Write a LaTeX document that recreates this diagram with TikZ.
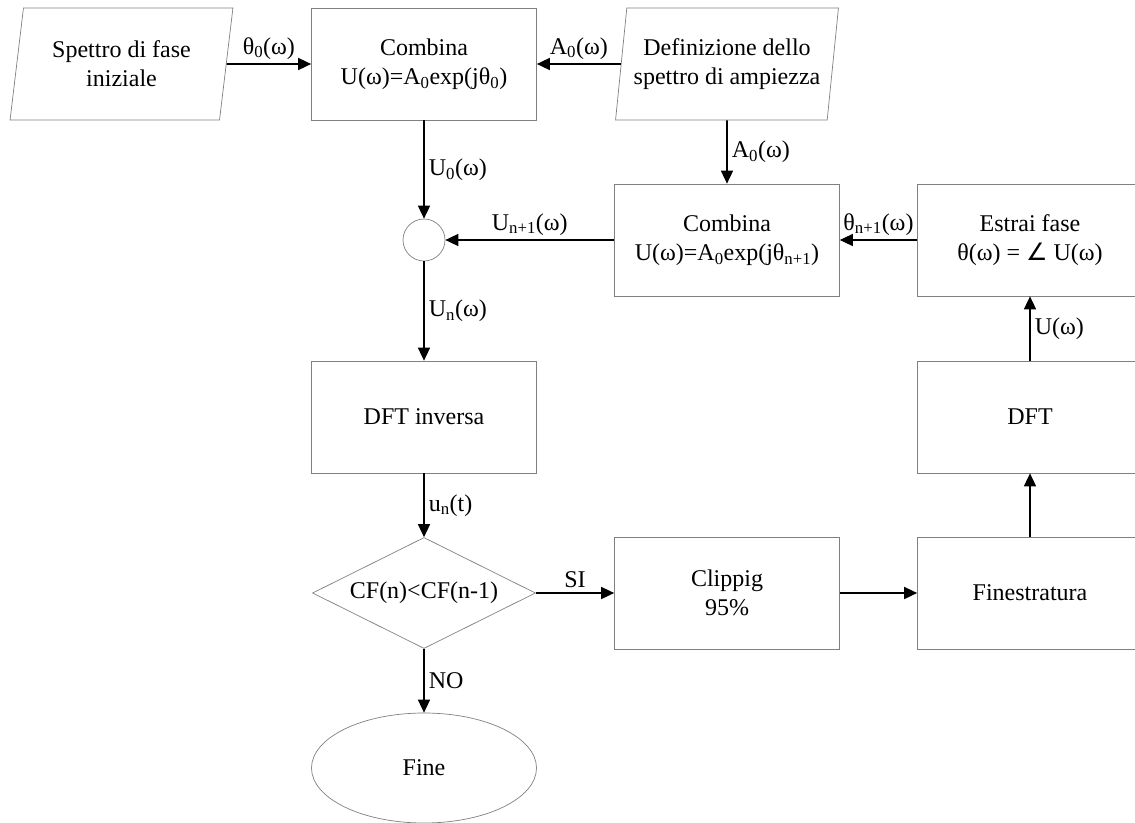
\documentclass[tikz,border=0pt]{standalone}
\usepackage{fontspec}
\setmainfont{Liberation Serif}
\newfontfamily\symbfont{DejaVu Sans}
\usetikzlibrary{shapes.geometric,arrows.meta}

\begin{document}
\begin{tikzpicture}[x=1pt,y=-1pt,font=\fontsize{24}{29}\selectfont,
    box/.style={draw=gray,line width=.7pt,align=center,minimum width=225pt,minimum height=112pt,inner sep=2pt},
    para/.style={box,trapezium,trapezium left angle=79,trapezium right angle=101,trapezium stretches=true,minimum width=223pt},
    lbl/.style={inner sep=4pt}]

      \useasboundingbox (0,0) rectangle (1135,822);

      \begin{scope}[every node/.style={box}]
        \node[para] (1) at (121.5,64) {Spettro di fase\\iniziale};
        \node (2) at (424,64) {Combina\\U(ω)=A\textsubscript{0}exp(jθ\textsubscript{0})};
        \node[para] (3) at (727,64) {Definizione dello\\spettro di ampiezza};
        \node[circle,minimum width=42pt,minimum height=42pt,inner sep=0pt] (4) at (424,240) {};
        \node (5) at (727,240) {Combina\\U(ω)=A\textsubscript{0}exp(jθ\textsubscript{n+1})};
        \node (6) at (1030,240) {Estrai fase\\θ(ω) = {\symbfont ∠} U(ω)};
        \node (7) at (424,417) {DFT inversa};
        \node[diamond,aspect=2,minimum width=223pt,minimum height=111pt,inner sep=0pt] (8) at (424,593) {CF(n)<CF(n-1)};
        \node (9) at (727,593) {Clippig\\95\%};
        \node (10) at (1030,593) {Finestratura};
        \node (11) at (1030,417) {DFT};
        \node[ellipse,minimum height=110pt] (12) at (424,768) {Fine};
      \end{scope}

      \begin{scope}[every node/.style={lbl}]
        \begin{scope}[every edge/.style={draw,line width=1.6pt,-{Triangle[length=13pt,width=12pt]}}]
          \path (1)  edge node[above] {θ\textsubscript{0}(ω)} (2);
          \path (3)  edge node[above] {A\textsubscript{0}(ω)} (2);
          \path (2)  edge node[right] {U\textsubscript{0}(ω)} (4);
          \path (3)  edge node[right] {A\textsubscript{0}(ω)} (5);
          \path (5)  edge node[above] {U\textsubscript{n+1}(ω)} (4);
          \path (6)  edge node[above] {θ\textsubscript{n+1}(ω)} (5);
          \path (4)  edge node[right] {U\textsubscript{n}(ω)} (7);
          \path (7)  edge node[right] {u\textsubscript{n}(t)} (8);
          \path (8)  edge node[above] {SI} (9);
          \path (9)  edge (10);
          \path (10) edge (11);
          \path (11) edge node[right] {U(ω)} (6);
          \path (8)  edge node[right] {NO} (12);
        \end{scope}
      \end{scope}

    \end{tikzpicture}
\end{document}
